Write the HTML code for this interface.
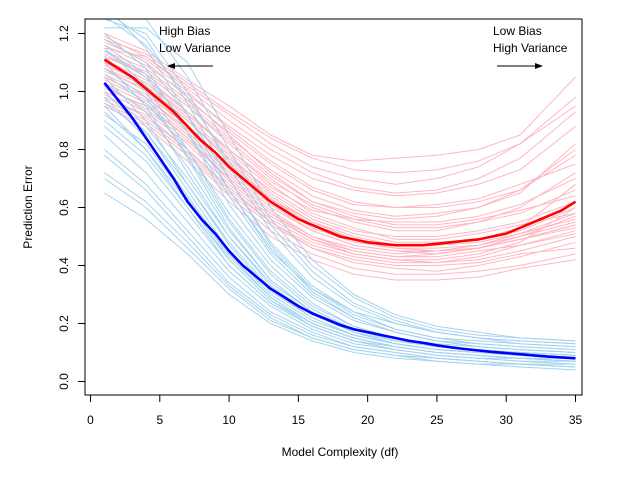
<!DOCTYPE html>
<html><head><meta charset="utf-8"><style>
body{margin:0;background:#fff}
svg text{font-family:"Liberation Sans",Arial,sans-serif;font-size:12px;fill:#000}
</style></head><body>
<svg id="chart" width="626" height="472" viewBox="0 0 626 472" xmlns="http://www.w3.org/2000/svg">
<defs><clipPath id="clip"><rect x="85" y="19" width="497" height="376"/></clipPath></defs>
<g id="lines" clip-path="url(#clip)"></g>
<rect x="85" y="19" width="497" height="376" fill="none" stroke="#000" stroke-width="1"/>
<g id="axes"></g>
<text x="32" y="207" transform="rotate(-90 32 207)" text-anchor="middle">Prediction Error</text>
<text x="340" y="456" text-anchor="middle">Model Complexity (df)</text>
<text x="159" y="35">High Bias</text>
<text x="159" y="52">Low Variance</text>
<g><line x1="213" y1="66" x2="170" y2="66" stroke="#000"/><path d="M167 66 L175 63 L175 69 Z" fill="#000"/></g>
<text x="493" y="35">Low Bias</text>
<text x="493" y="52">High Variance</text>
<g><line x1="497" y1="66" x2="540" y2="66" stroke="#000"/><path d="M543 66 L535 63 L535 69 Z" fill="#000"/></g>
</svg>
<script>
const xTicks=[0,5,10,15,20,25,30,35];
const yTicks=[0.0,0.2,0.4,0.6,0.8,1.0,1.2];
const sampleDf=[1,4,7,10,13,16,19,22,25,28,31,35];
const testLines=[
[1.18,1.10,0.98,0.85,0.72,0.62,0.58,0.56,0.57,0.60,0.66,0.80],
[1.05,0.98,0.86,0.72,0.60,0.52,0.47,0.45,0.44,0.46,0.50,0.55],
[1.12,1.06,0.95,0.82,0.70,0.60,0.55,0.52,0.52,0.55,0.58,0.66],
[0.98,0.92,0.80,0.66,0.55,0.46,0.41,0.39,0.38,0.40,0.43,0.48],
[1.15,1.12,1.02,0.92,0.82,0.74,0.70,0.68,0.70,0.74,0.82,0.98],
[1.08,1.00,0.88,0.74,0.62,0.53,0.48,0.46,0.46,0.47,0.50,0.57],
[1.02,0.94,0.83,0.70,0.58,0.50,0.45,0.43,0.43,0.45,0.47,0.52],
[1.20,1.14,1.04,0.95,0.85,0.78,0.76,0.77,0.78,0.80,0.85,1.05],
[1.10,1.02,0.90,0.77,0.66,0.57,0.52,0.50,0.50,0.52,0.55,0.62],
[0.95,0.88,0.76,0.62,0.50,0.42,0.37,0.35,0.35,0.36,0.39,0.42],
[1.14,1.08,0.97,0.86,0.75,0.66,0.61,0.60,0.61,0.63,0.68,0.75],
[1.06,0.99,0.88,0.75,0.63,0.55,0.50,0.47,0.47,0.49,0.52,0.60],
[1.11,1.04,0.93,0.80,0.68,0.58,0.53,0.49,0.49,0.51,0.54,0.58],
[1.00,0.93,0.82,0.68,0.56,0.48,0.44,0.42,0.41,0.42,0.45,0.50],
[1.16,1.09,0.99,0.88,0.78,0.70,0.66,0.64,0.65,0.68,0.73,0.88],
[1.09,1.03,0.91,0.78,0.65,0.56,0.51,0.48,0.48,0.49,0.53,0.68],
[1.04,0.97,0.85,0.71,0.59,0.50,0.46,0.44,0.45,0.47,0.51,0.56],
[1.13,1.05,0.93,0.79,0.67,0.59,0.56,0.55,0.55,0.57,0.61,0.70],
[0.97,0.90,0.79,0.65,0.54,0.46,0.42,0.40,0.40,0.41,0.44,0.46],
[1.19,1.12,1.01,0.90,0.80,0.72,0.67,0.65,0.66,0.70,0.77,0.93],
[1.17,1.11,1.00,0.87,0.76,0.67,0.62,0.60,0.60,0.62,0.66,0.78],
[1.01,0.95,0.84,0.70,0.58,0.49,0.44,0.42,0.42,0.44,0.48,0.60],
[1.07,1.01,0.90,0.77,0.64,0.55,0.49,0.46,0.45,0.46,0.49,0.53],
[1.12,1.07,0.96,0.84,0.73,0.64,0.59,0.57,0.58,0.60,0.65,0.82],
[0.99,0.91,0.80,0.67,0.55,0.47,0.43,0.41,0.41,0.43,0.47,0.51],
[1.14,1.06,0.95,0.83,0.71,0.62,0.57,0.54,0.54,0.56,0.59,0.64],
[1.03,0.96,0.84,0.69,0.57,0.49,0.45,0.43,0.44,0.46,0.49,0.54],
[1.18,1.13,1.03,0.93,0.84,0.77,0.73,0.72,0.73,0.76,0.82,0.95],
[1.08,1.02,0.90,0.76,0.63,0.54,0.49,0.47,0.47,0.48,0.51,0.58],
[0.96,0.89,0.78,0.64,0.52,0.44,0.39,0.37,0.37,0.38,0.40,0.44],
[1.10,1.03,0.92,0.80,0.69,0.61,0.56,0.53,0.53,0.55,0.60,0.72],
[1.05,0.98,0.87,0.73,0.61,0.52,0.47,0.45,0.45,0.46,0.49,0.54]];
const trainLines=[
[1.30,1.15,0.92,0.66,0.45,0.32,0.24,0.20,0.17,0.15,0.14,0.13],
[1.00,0.86,0.66,0.45,0.30,0.21,0.16,0.13,0.11,0.10,0.09,0.08],
[1.15,1.02,0.80,0.56,0.38,0.26,0.19,0.15,0.13,0.12,0.11,0.10],
[0.85,0.72,0.55,0.38,0.26,0.18,0.13,0.11,0.09,0.08,0.07,0.06],
[1.25,1.20,1.00,0.74,0.52,0.36,0.26,0.20,0.17,0.15,0.13,0.12],
[0.95,0.80,0.60,0.40,0.27,0.19,0.14,0.12,0.10,0.09,0.08,0.07],
[1.10,0.95,0.72,0.50,0.34,0.24,0.18,0.14,0.12,0.11,0.10,0.09],
[0.72,0.62,0.48,0.33,0.22,0.15,0.11,0.09,0.08,0.07,0.06,0.05],
[1.35,1.25,1.05,0.80,0.56,0.40,0.29,0.22,0.18,0.16,0.15,0.14],
[1.05,0.90,0.68,0.47,0.31,0.22,0.16,0.13,0.11,0.10,0.09,0.08],
[0.90,0.78,0.60,0.42,0.28,0.20,0.15,0.12,0.10,0.09,0.08,0.07],
[1.20,1.08,0.86,0.61,0.42,0.29,0.21,0.17,0.14,0.13,0.12,0.11],
[0.65,0.56,0.44,0.30,0.20,0.14,0.10,0.08,0.07,0.06,0.05,0.04],
[1.08,0.98,0.78,0.55,0.37,0.25,0.18,0.14,0.12,0.11,0.10,0.09],
[0.98,0.84,0.64,0.44,0.29,0.20,0.15,0.12,0.10,0.09,0.08,0.07],
[1.28,1.18,0.96,0.70,0.48,0.33,0.24,0.18,0.15,0.14,0.13,0.12],
[0.80,0.68,0.52,0.36,0.24,0.17,0.12,0.10,0.08,0.07,0.06,0.06],
[1.12,1.00,0.77,0.53,0.35,0.24,0.17,0.14,0.12,0.11,0.10,0.09],
[0.92,0.82,0.63,0.43,0.29,0.20,0.15,0.12,0.10,0.09,0.08,0.08],
[1.02,0.88,0.70,0.50,0.33,0.23,0.17,0.13,0.11,0.10,0.09,0.08],
[1.22,1.22,1.10,0.85,0.60,0.42,0.30,0.23,0.19,0.17,0.15,0.14],
[1.18,1.10,0.92,0.70,0.47,0.32,0.23,0.18,0.15,0.13,0.12,0.11],
[0.88,0.76,0.58,0.40,0.27,0.19,0.14,0.11,0.09,0.08,0.07,0.07],
[1.03,0.93,0.74,0.52,0.35,0.24,0.17,0.13,0.11,0.10,0.09,0.08],
[0.78,0.66,0.50,0.34,0.23,0.16,0.12,0.10,0.08,0.07,0.06,0.05],
[1.14,1.05,0.86,0.64,0.44,0.30,0.22,0.17,0.14,0.12,0.11,0.10],
[0.96,0.86,0.68,0.48,0.32,0.22,0.16,0.13,0.11,0.10,0.09,0.08],
[1.26,1.16,0.98,0.76,0.54,0.38,0.27,0.21,0.17,0.15,0.14,0.13],
[0.70,0.60,0.46,0.32,0.21,0.15,0.11,0.09,0.07,0.06,0.06,0.05],
[1.06,0.96,0.80,0.58,0.40,0.27,0.19,0.15,0.12,0.11,0.10,0.09],
[0.93,0.80,0.62,0.42,0.28,0.19,0.14,0.11,0.09,0.08,0.08,0.07],
[1.16,1.06,0.88,0.66,0.46,0.31,0.22,0.17,0.14,0.12,0.11,0.10]];
const meanDf=[1,2,3,4,5,6,7,8,9,10,11,12,13,14,15,16,17,18,19,20,21,22,23,24,25,26,27,28,29,30,31,32,33,34,35];
const testMean=[1.11,1.08,1.05,1.01,0.97,0.93,0.88,0.83,0.79,0.74,0.70,0.66,0.62,0.59,0.56,0.54,0.52,0.50,0.49,0.48,0.475,0.47,0.47,0.47,0.475,0.48,0.485,0.49,0.50,0.51,0.53,0.55,0.57,0.59,0.62];
const trainMean=[1.03,0.97,0.91,0.84,0.77,0.70,0.62,0.56,0.51,0.45,0.40,0.36,0.32,0.29,0.26,0.235,0.215,0.195,0.18,0.17,0.16,0.15,0.14,0.133,0.125,0.118,0.112,0.107,0.102,0.098,0.094,0.09,0.086,0.083,0.08];

const X=v=>90.5+v*13.857;
const Y=v=>381.5-v*290;
const NS='http://www.w3.org/2000/svg';
const g=document.getElementById('lines');
const ax=document.getElementById('axes');
function poly(parent,xs,ys,color,w,name){
  const p=document.createElementNS(NS,'polyline');
  p.setAttribute('points',xs.map((x,i)=>X(x).toFixed(1)+','+Y(ys[i]).toFixed(1)).join(' '));
  p.setAttribute('fill','none');p.setAttribute('stroke',color);p.setAttribute('stroke-width',w);
  p.setAttribute('stroke-linejoin','round');
  
  
  parent.appendChild(p);
}
testLines.forEach(l=>poly(g,sampleDf,l,'#ffb6c1',1,'test-error-sample-line'));
trainLines.forEach(l=>poly(g,sampleDf,l,'#a4d3ee',1,'train-error-sample-line'));
poly(g,meanDf,testMean,'#ff0000',2.6,'test-error-mean-line');
poly(g,meanDf,trainMean,'#0000ff',2.6,'train-error-mean-line');
xTicks.forEach(t=>{
  const l=document.createElementNS(NS,'line');
  l.setAttribute('x1',X(t));l.setAttribute('x2',X(t));l.setAttribute('y1',395);l.setAttribute('y2',402);l.setAttribute('stroke','#000');
  
  
  ax.appendChild(l);
  const tx=document.createElementNS(NS,'text');
  tx.setAttribute('x',X(t));tx.setAttribute('y',424);tx.setAttribute('text-anchor','middle');tx.textContent=t;
  
  
  ax.appendChild(tx);
});
yTicks.forEach(t=>{
  const l=document.createElementNS(NS,'line');
  l.setAttribute('x1',78);l.setAttribute('x2',85);l.setAttribute('y1',Y(t));l.setAttribute('y2',Y(t));l.setAttribute('stroke','#000');
  
  
  ax.appendChild(l);
  const tx=document.createElementNS(NS,'text');
  const yy=Y(t);
  tx.setAttribute('x',68);tx.setAttribute('y',yy);tx.setAttribute('text-anchor','middle');
  tx.setAttribute('transform','rotate(-90 68 '+yy+')');tx.textContent=t.toFixed(1);
  
  
  ax.appendChild(tx);
});
</script>
</body></html>
